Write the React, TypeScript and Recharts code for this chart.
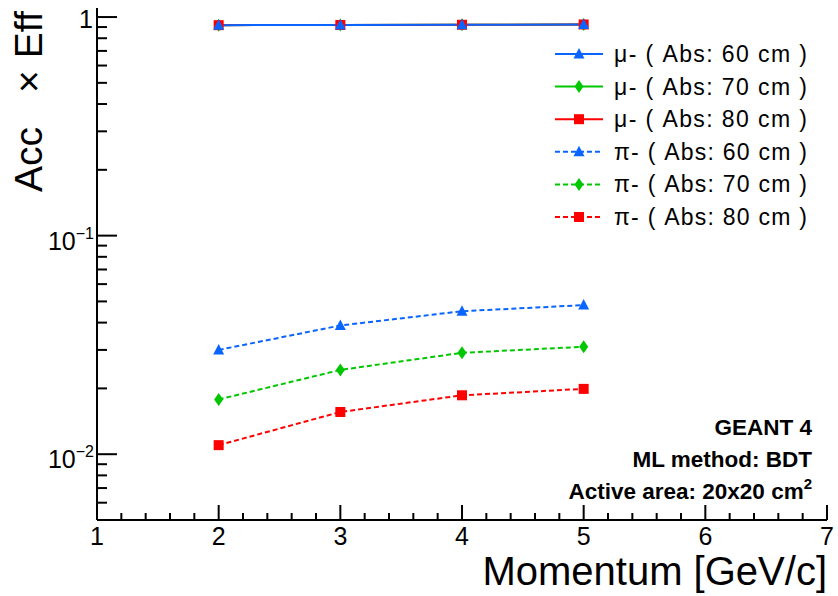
import React from 'react';
import { LineChart, Line, XAxis, YAxis, Legend } from 'recharts';

// Momentum points [GeV/c]
const momenta = [2, 3, 4, 5];

// Acceptance x efficiency per absorber thickness
const muAbs60 = [0.918, 0.92, 0.922, 0.925];
const muAbs70 = [0.918, 0.92, 0.922, 0.925];
const muAbs80 = [0.918, 0.92, 0.922, 0.925];
const piAbs60 = [0.03, 0.0388, 0.0451, 0.0481];
const piAbs70 = [0.0178, 0.0243, 0.0291, 0.031];
const piAbs80 = [0.011, 0.0156, 0.0186, 0.0199];

const xTicks = [1, 1.2, 1.4, 1.6, 1.8, 2, 2.2, 2.4, 2.6, 2.8, 3, 3.2, 3.4, 3.6, 3.8, 4, 4.2, 4.4, 4.6, 4.8, 5, 5.2, 5.4, 5.6, 5.8, 6, 6.2, 6.4, 6.6, 6.8, 7];
const yTicks = [
  0.005, 0.006, 0.007, 0.008, 0.009,
  0.01, 0.02, 0.03, 0.04, 0.05, 0.06, 0.07, 0.08, 0.09,
  0.1, 0.2, 0.3, 0.4, 0.5, 0.6, 0.7, 0.8, 0.9,
  1,
];
const yMajor = [0.01, 0.1, 1];
const yMajorExp = ['−2', '−1', ''];

const xTitle = 'Momentum [GeV/c]';
const notes = ['GEANT 4', 'ML method: BDT'];
const areaNote = 'Active area: 20x20 cm';

type Shape = 'triangle' | 'diamond' | 'square';
interface SeriesDef {
  key: string;
  label: string;
  color: string;
  shape: Shape;
  dashed: boolean;
  values: number[];
}

const BLUE = '#0a64ff';
const GREEN = '#00c800';
const RED = '#ff0000';

const series: SeriesDef[] = [
  { key: 'mu60', label: 'μ- ( Abs: 60 cm )', color: BLUE, shape: 'triangle', dashed: false, values: muAbs60 },
  { key: 'mu70', label: 'μ- ( Abs: 70 cm )', color: GREEN, shape: 'diamond', dashed: false, values: muAbs70 },
  { key: 'mu80', label: 'μ- ( Abs: 80 cm )', color: RED, shape: 'square', dashed: false, values: muAbs80 },
  { key: 'pi60', label: 'π- ( Abs: 60 cm )', color: BLUE, shape: 'triangle', dashed: true, values: piAbs60 },
  { key: 'pi70', label: 'π- ( Abs: 70 cm )', color: GREEN, shape: 'diamond', dashed: true, values: piAbs70 },
  { key: 'pi80', label: 'π- ( Abs: 80 cm )', color: RED, shape: 'square', dashed: true, values: piAbs80 },
];

// draw order: dashed curves first, then the overlapping solid curves with blue on top
const drawOrder = ['pi80', 'pi70', 'pi60', 'mu70', 'mu80', 'mu60'];

const rows = momenta.map((p, i) => {
  const r: Record<string, number> = { p };
  series.forEach((s) => {
    r[s.key] = s.values[i];
  });
  return r;
});

const W = 838;
const H = 596;
const PLOT = { left: 97, right: 827, top: 8, bottom: 520 };
const FONT = '"Liberation Sans", Arial, Helvetica, sans-serif';
const DASH = '5 3';

function Marker({ cx, cy, shape, color }: { cx: number; cy: number; shape: Shape; color: string }) {
  if (cx == null || cy == null) return null;
  if (shape === 'triangle') {
    return <polygon points={`${cx},${cy - 6} ${cx - 5.5},${cy + 4.5} ${cx + 5.5},${cy + 4.5}`} fill={color} />;
  }
  if (shape === 'diamond') {
    return <polygon points={`${cx},${cy - 6.5} ${cx + 4.5},${cy} ${cx},${cy + 6.5} ${cx - 4.5},${cy}`} fill={color} />;
  }
  return <rect x={cx - 5} y={cy - 5} width={10} height={10} fill={color} />;
}

const isInt = (v: number) => Math.abs(v - Math.round(v)) < 1e-6;
const majorIndex = (v: number) => yMajor.findIndex((m) => Math.abs(v - m) < 1e-9);

function BottomTick(props: any) {
  const { x, payload } = props;
  const v = payload.value as number;
  const major = isInt(v);
  return (
    <g>
      <line x1={x} x2={x} y1={PLOT.bottom} y2={PLOT.bottom - (major ? 15 : 7)} stroke="#000" strokeWidth={2} />
      {major && (
        <text x={x} y={545} textAnchor="middle" fontSize={25} fontFamily={FONT} fill="#000">
          {String(v)}
        </text>
      )}
    </g>
  );
}

function TopTick(props: any) {
  const { x, payload } = props;
  const major = isInt(payload.value);
  return <line x1={x} x2={x} y1={PLOT.top} y2={PLOT.top + (major ? 12 : 7)} stroke="#000" strokeWidth={2} />;
}

function LeftTick(props: any) {
  const { y, payload } = props;
  const v = payload.value as number;
  const mi = majorIndex(v);
  const major = mi >= 0;
  let label = null;
  if (major) {
    const exp = yMajorExp[mi];
    label = exp === '' ? (
      <text x={93} y={y + 11} textAnchor="end" fontSize={25} fontFamily={FONT} fill="#000">1</text>
    ) : (
      <text x={94} y={y + 14} textAnchor="end" fontFamily={FONT} fill="#000">
        <tspan fontSize={25}>10</tspan>
        <tspan fontSize={16} dy={-11}>{exp}</tspan>
      </text>
    );
  }
  return (
    <g>
      <line x1={PLOT.left} x2={PLOT.left + (major ? 20 : 10)} y1={y} y2={y} stroke="#000" strokeWidth={2} />
      {label}
    </g>
  );
}

function RightTick(props: any) {
  const { y, payload } = props;
  const major = majorIndex(payload.value) >= 0;
  return <line x1={PLOT.right} x2={PLOT.right - (major ? 18 : 9)} y1={y} y2={y} stroke="#000" strokeWidth={2} />;
}

function Overlay() {
  const rowY = (i: number) => 54 + i * 32.6;
  return (
    <svg width={W} height={H} style={{ position: 'absolute', left: 0, top: 0, pointerEvents: 'none' }}>
      {series.map((s, i) => (
        <g key={s.key}>
          <line
            x1={555}
            x2={603}
            y1={rowY(i)}
            y2={rowY(i)}
            stroke={s.color}
            strokeWidth={2}
            strokeDasharray={s.dashed ? DASH : undefined}
          />
          <Marker cx={579} cy={rowY(i)} shape={s.shape} color={s.color} />
          <text
            x={614}
            y={rowY(i) + 8}
            fontSize={23}
            fontFamily={FONT}
            fill="#000"
            textLength={193}
            lengthAdjust="spacing"
          >
            {s.label}
          </text>
        </g>
      ))}
      {notes.map((t, i) => (
        <text key={t} x={812} y={435 + i * 32} textAnchor="end" fontSize={22.5} fontWeight="bold" fontFamily={FONT} fill="#000">
          {t}
        </text>
      ))}
      <text x={812} y={499} textAnchor="end" fontSize={22.5} fontWeight="bold" fontFamily={FONT} fill="#000">
        {areaNote}
        <tspan fontSize={15} dy={-10}>2</tspan>
      </text>
      <text x={PLOT.right} y={585} textAnchor="end" fontSize={40} fontFamily={FONT} fill="#000">
        {xTitle}
      </text>
      <text transform="rotate(-90)" x={-192} y={42} fontSize={39} fontFamily={FONT} fill="#000">
        <tspan>Acc</tspan>
        <tspan dx={34}>×</tspan>
        <tspan dx={12}>Eff</tspan>
      </text>
    </svg>
  );
}

export default function App() {
  const byKey = Object.fromEntries(series.map((s) => [s.key, s]));
  return (
    <div style={{ position: 'absolute', left: 0, top: 0, width: W, height: H, background: '#fff' }}>
      <LineChart
        width={W}
        height={H}
        data={rows}
        margin={{ top: PLOT.top, right: W - PLOT.right, left: 0, bottom: 0 }}
      >
        <XAxis
          dataKey="p"
          type="number"
          domain={[1, 7]}
          ticks={xTicks}
          interval={0}
          allowDataOverflow
          height={H - PLOT.bottom}
          tickLine={false}
          tick={<BottomTick />}
          axisLine={{ stroke: '#000', strokeWidth: 2 }}
        />
        <XAxis
          xAxisId="top"
          orientation="top"
          type="number"
          domain={[1, 7]}
          ticks={xTicks}
          interval={0}
          allowDataOverflow
          height={0}
          tickLine={false}
          tick={<TopTick />}
          axisLine={{ stroke: '#000', strokeWidth: 2 }}
        />
        <YAxis
          scale="log"
          type="number"
          domain={[0.005, 1.1]}
          ticks={yTicks}
          interval={0}
          allowDataOverflow
          width={PLOT.left}
          tickLine={false}
          tick={<LeftTick />}
          axisLine={{ stroke: '#000', strokeWidth: 2 }}
        />
        <YAxis
          yAxisId="right"
          orientation="right"
          scale="log"
          type="number"
          domain={[0.005, 1.1]}
          ticks={yTicks}
          interval={0}
          allowDataOverflow
          width={0}
          tickLine={false}
          tick={<RightTick />}
          axisLine={{ stroke: '#000', strokeWidth: 2 }}
        />
        {drawOrder.map((k) => {
          const s = byKey[k];
          return (
            <Line
              key={s.key}
              dataKey={s.key}
              name={s.label}
              type="linear"
              stroke={s.color}
              strokeWidth={2}
              strokeDasharray={s.dashed ? DASH : undefined}
              isAnimationActive={false}
              dot={(p: any) => (
                <Marker key={`${s.key}-${p.index}`} cx={p.cx} cy={p.cy} shape={s.shape} color={s.color} />
              )}
              activeDot={false}
            />
          );
        })}
        <Legend
          layout="horizontal"
          verticalAlign="middle"
          wrapperStyle={{ left: 0, top: 0, width: W, height: H, pointerEvents: 'none' }}
          content={() => <Overlay />}
        />
      </LineChart>
    </div>
  );
}
